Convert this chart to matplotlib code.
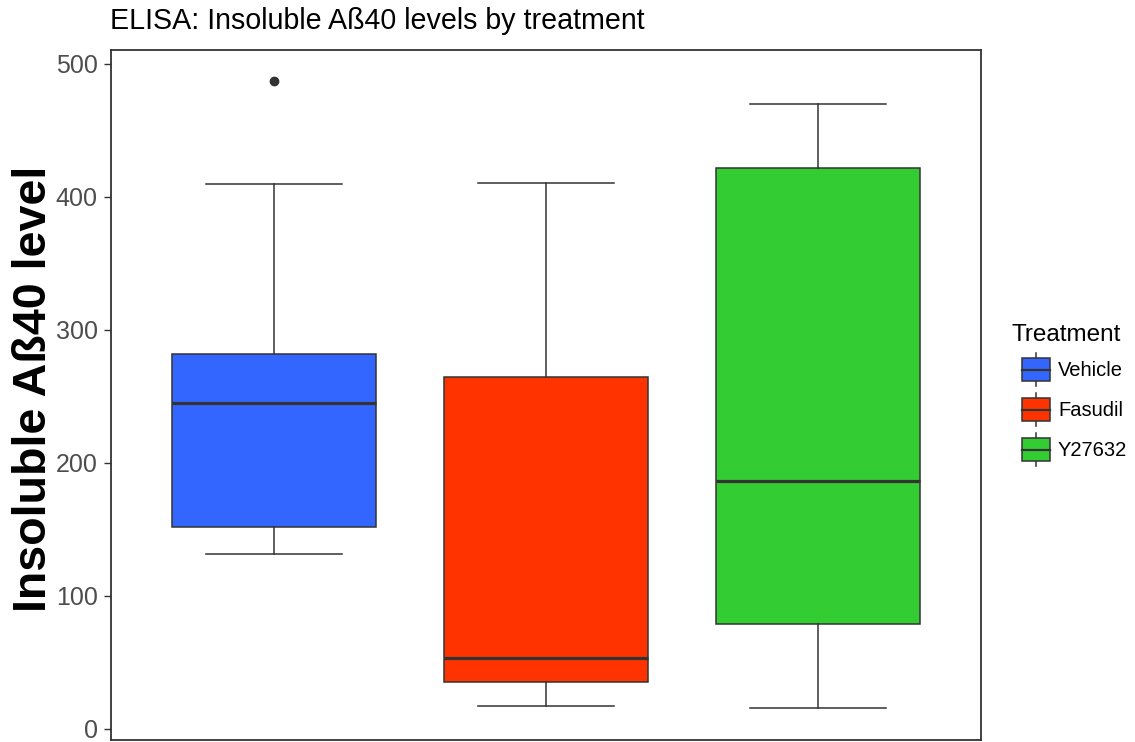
import matplotlib
matplotlib.use("Agg")
import matplotlib.pyplot as plt
from matplotlib.legend_handler import HandlerBase
from matplotlib.patches import Rectangle, Patch
from matplotlib.lines import Line2D

plt.rcParams['font.family'] = ['Liberation Sans', 'DejaVu Sans']

# Five-number summaries per treatment group (insoluble Aβ40 ELISA)
treatments = ["Vehicle", "Fasudil", "Y27632"]
whisker_low = [131.3, 17.0, 15.6]
quartile_1 = [152.0, 35.3, 79.0]
medians = [245.0, 53.4, 186.5]
quartile_3 = [282.0, 264.7, 421.8]
whisker_high = [409.5, 410.5, 470.0]
outliers = [[486.7], [], []]
yticks = [0, 100, 200, 300, 400, 500]

colors = ["#3366FF", "#FF3300", "#33CC33"]
line_col = "#333333"

W, H = 1135, 742
fig = plt.figure(figsize=(W / 100, H / 100), dpi=100)
ax = fig.add_axes([110.5 / W, 1 - 739.5 / H, (981 - 110.5) / W, (739.5 - 50) / H])

stats = []
for i, name in enumerate(treatments):
    stats.append(dict(label=name, whislo=whisker_low[i], q1=quartile_1[i],
                      med=medians[i], q3=quartile_3[i], whishi=whisker_high[i],
                      fliers=outliers[i]))

bp = ax.bxp(stats, positions=[1, 2, 3], widths=0.75, capwidths=0.5,
            patch_artist=True, showfliers=True,
            boxprops=dict(edgecolor=line_col, linewidth=1.1),
            medianprops=dict(color=line_col, linewidth=2.3, solid_capstyle='butt'),
            whiskerprops=dict(color=line_col, linewidth=1.1),
            capprops=dict(color=line_col, linewidth=1.1),
            flierprops=dict(marker='o', markersize=6, markerfacecolor=line_col,
                            markeredgecolor=line_col))
for patch, c in zip(bp['boxes'], colors):
    patch.set_facecolor(c)

# Axis ranges with 5% expansion of the data span
lo = min(whisker_low + [v for o in outliers for v in o])
hi = max(whisker_high + [v for o in outliers for v in o])
span = hi - lo
ax.set_ylim(lo - 0.05 * span, hi + 0.05 * span)
ax.set_xlim(0.4, 3.6)
ax.set_yticks(yticks)
ax.set_xticks([])
ax.tick_params(axis='y', length=5, width=1.0, color=line_col, pad=4.3,
               labelsize=18, labelcolor="#4D4D4D")
for s in ax.spines.values():
    s.set_color(line_col)
    s.set_linewidth(1.3)

fig.text(110 / W, 1 - 29 / H, "ELISA: Insoluble Aß40 levels by treatment",
         fontsize=20.6, ha='left', va='baseline', color='black')
fig.text(12 / W, 1 - 389 / H, "Insoluble Aß40 level", rotation=90,
         fontsize=33.6, fontweight='bold', ha='left', va='center', color='black')


class BoxKeyHandler(HandlerBase):
    def create_artists(self, legend, orig_handle, xdescent, ydescent,
                       width, height, fontsize, trans):
        px = 0.72
        off = 10 * px
        x0 = -xdescent + off
        w = width - off
        y0 = -ydescent
        stub = 5 * px
        xc = x0 + w / 2
        vline = Line2D([xc, xc], [y0, y0 + height], color=line_col,
                       linewidth=1.1, transform=trans)
        rect = Rectangle((x0, y0 + stub), w, height - 2 * stub,
                         facecolor=orig_handle.get_facecolor(),
                         edgecolor=line_col, linewidth=1.1, transform=trans)
        mid = Line2D([x0, x0 + w], [y0 + height / 2] * 2, color=line_col,
                     linewidth=1.6, transform=trans)
        return [vline, rect, mid]


handles = [Patch(facecolor=c, label=t) for c, t in zip(colors, treatments)]
fs = 14.5
# handle area total height (points) = 0.65*hh*fs + 0.245*fs
key_h = 33 * 0.72
hh = (key_h - 0.245 * fs) / (0.65 * fs)
leg = fig.legend(handles=handles, title="Treatment", loc='upper left',
                 bbox_to_anchor=(1012 / W, 1 - 324 / H), frameon=False,
                 fontsize=fs, title_fontsize=17.5, borderpad=0, borderaxespad=0,
                 handlelength=38 * 0.72 / fs, handleheight=hh,
                 labelspacing=7 * 0.72 / fs, handletextpad=8 * 0.72 / fs,
                 handler_map={Patch: BoxKeyHandler()})
leg._legend_box.align = "left"

fig.savefig("out.png", dpi=100)
